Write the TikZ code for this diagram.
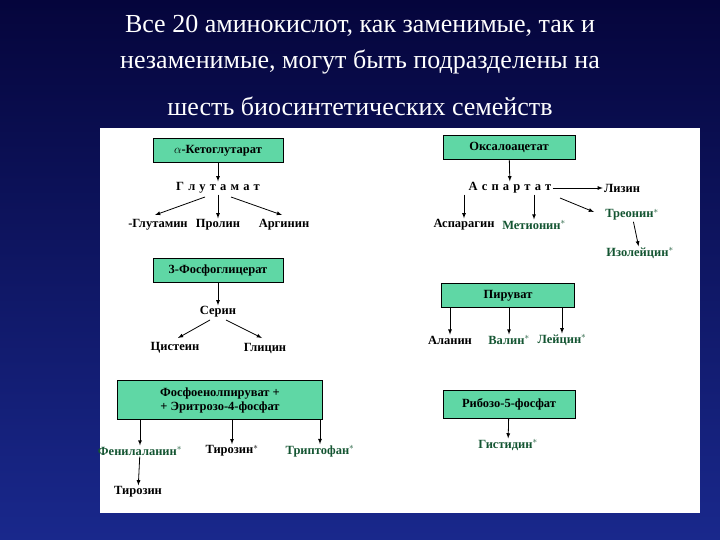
\documentclass[tikz,border=0pt]{standalone}
\usepackage{fontspec}
\setmainfont{Liberation Serif}
\begin{document}
\begin{tikzpicture}[x=1pt,y=-1pt,
 box/.style={draw=black,line width=0.8pt,fill=boxg,minimum height=24pt,font=\fontsize{12.5}{14}\selectfont\bfseries,inner sep=2pt,text height=9pt,text depth=2pt},
 lab/.style={font=\fontsize{12.5}{13}\selectfont\bfseries,inner sep=1pt},
 glab/.style={lab,text=gtxt},
 arr/.style={-latex,line width=0.8pt},
 ttl/.style={text=white,font=\fontsize{26}{28}\selectfont}]
\definecolor{boxg}{RGB}{95,215,165}
\definecolor{gtxt}{RGB}{20,85,50}
\shade[top color={rgb,255:red,5;green,5;blue,60},bottom color={rgb,255:red,25;green,40;blue,140}] (0,0) rectangle (720,540);
\useasboundingbox (0,0) rectangle (720,540);
\fill[white] (100,128) rectangle (700,513);
\node[ttl] (t1) at (360,26) {Все 20 аминокислот, как заменимые, так и};
\node[ttl] (t2) at (360,62) {незаменимые, могут быть подразделены на};
\node[ttl] (t3) at (360,106) {шесть биосинтетических семейств};
% left column
\node[box,minimum width=130pt] (akg) at (218,150) {$\alpha$-Кетоглутарат};
\node[lab] (glu) at (218,188) {Г\,\,л\,\,у\,\,т\,\,а\,\,м\,\,а\,\,т};
\node[lab] (gln) at (158,225) {-Глутамин};
\node[lab] (pro) at (218,225) {Пролин};
\node[lab] (arg) at (284,225) {Аргинин};
\coordinate (g1) at (205,197); \coordinate (g2) at (231,197);
\coordinate (g1e) at (155,215); \coordinate (g2e) at (282,215);
\draw[arr] (akg) -- (glu);
\draw[arr] (g1) -- (g1e);
\draw[arr] (glu) -- (pro);
\draw[arr] (g2) -- (g2e);
\node[box,minimum width=130pt] (pg) at (218,270) {3-Фосфоглицерат};
\node[lab] (ser) at (218,312) {Серин};
\node[lab] (cys) at (175,348) {Цистеин};
\node[lab] (gly) at (265,348) {Глицин};
\coordinate (s1) at (210,320); \coordinate (s1e) at (178,338);
\coordinate (s2) at (226,320); \coordinate (s2e) at (262,338);
\draw[arr] (pg) -- (ser);
\draw[arr] (s1) -- (s1e);
\draw[arr] (s2) -- (s2e);
\node[box,minimum width=205pt,minimum height=39pt,align=center,text height=,text depth=] (pep) at (220,400) {Фосфоенолпируват +\\+ Эритрозо-4-фосфат};
\node[glab] (phe) at (140,451) {Фенилаланин$^*$};
\node[lab] (tyr1) at (232,451) {Тирозин$^*$};
\node[glab] (trp) at (320,451) {Триптофан$^*$};
\node[lab] (tyr2) at (138,492) {Тирозин};
\draw[arr] (pep.south -| phe) -- (phe);
\draw[arr] (pep.south -| tyr1) -- (tyr1);
\draw[arr] (pep.south -| trp) -- (trp);
\draw[arr] (phe) -- (tyr2);
% right column
\node[box,minimum width=132pt] (oaa) at (509,147) {Оксалоацетат};
\node[lab] (asp) at (510,188) {А\,\,с\,\,п\,\,а\,\,р\,\,т\,\,а\,\,т};
\node[lab] (lys) at (622,188) {Лизин};
\node[lab] (asn) at (464,225) {Аспарагин};
\node[glab] (met) at (534,225) {Метионин$^*$};
\node[glab] (thr) at (632,215) {Треонин$^*$};
\node[glab] (ile) at (640,253) {Изолейцин$^*$};
\coordinate (a1) at (560,198); \coordinate (a1e) at (594,212);
\draw[arr] (oaa) -- (asp);
\draw[arr] (asp) -- (lys);
\draw[arr] (asp.south -| asn) -- (asn);
\draw[arr] (asp.south -| met) -- (met);
\draw[arr] (a1) -- (a1e);
\draw[arr] (thr) -- (ile);
\node[box,minimum width=133pt] (pyr) at (508,295) {Пируват};
\node[lab] (ala) at (450,340) {Аланин};
\node[glab] (val) at (509,340) {Валин$^*$};
\node[glab] (leu) at (562,340) {Лейцин$^*$};
\draw[arr] (pyr.south -| ala) -- (ala);
\draw[arr] (pyr.south -| val) -- (val);
\draw[arr] (pyr.south -| leu) -- (leu);
\node[box,minimum width=132pt,minimum height=28pt] (r5p) at (509,404) {Рибозо-5-фосфат};
\node[glab] (his) at (508,445) {Гистидин$^*$};
\draw[arr] (r5p) -- (his);
\end{tikzpicture}
\end{document}
